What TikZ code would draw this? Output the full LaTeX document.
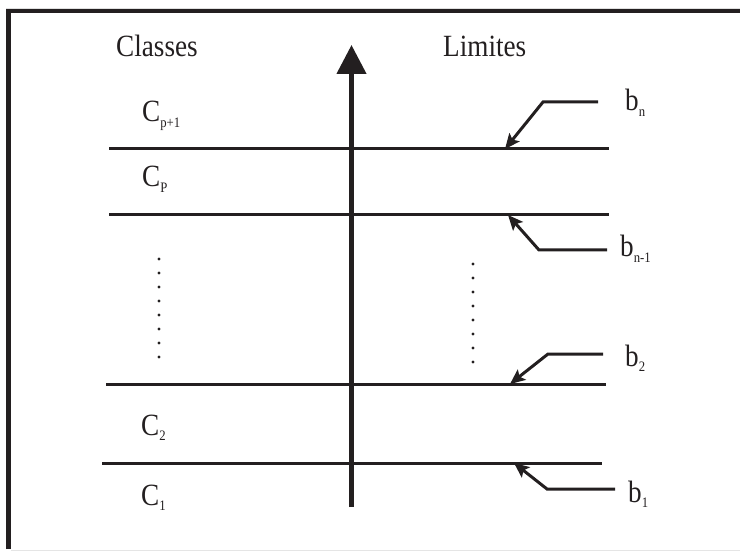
\documentclass[tikz,border=0pt]{standalone}
\usepackage{fontspec}
\setmainfont{Liberation Serif}
\newfontfamily\tallfont[FakeStretch=0.88]{Liberation Serif}
\usetikzlibrary{arrows.meta}
\definecolor{ink}{HTML}{231F20}
\newcommand{\lbl}[2]{#1\raisebox{-5.5bp}{\fontsize{14.5}{15}\selectfont #2}}
\begin{document}
\begin{tikzpicture}[x=1bp,y=-1bp,
  txt/.style={inner sep=0pt,anchor=base west,text=ink,font=\tallfont\fontsize{31}{33}\selectfont},
  bound/.style={draw=ink,line width=3bp},
  ptr/.style={draw=ink,line width=3bp,-{Stealth[length=15bp,width=13bp,inset=3bp]}},
  frame/.style={draw=ink,line width=4.5bp},
  dotcol/.style={fill=ink}]
\useasboundingbox (0,0) rectangle (740,551);
% frame
\draw[gray!25,line width=1bp] (6,8.5) -- (740,8.5);
\draw[frame] (8.5,549) -- (8.5,11) -- (740,11);
\draw[gray!20,line width=1bp] (11,550) -- (740,550);
% axis
\coordinate (axB) at (351.5,507);
\coordinate (axT) at (351.5,45);
\draw[draw=ink,line width=4.5bp,-{Triangle[length=29bp,width=29bp]}] (axB) -- (axT);
% boundary lines
\coordinate (l1a) at (109,149); \coordinate (l1b) at (609,149);
\coordinate (l2a) at (109,215); \coordinate (l2b) at (609,215);
\coordinate (l3a) at (106,384); \coordinate (l3b) at (606,384);
\coordinate (l4a) at (102,463); \coordinate (l4b) at (602,463);
\draw[bound] (l1a) -- (l1b);
\draw[bound] (l2a) -- (l2b);
\draw[bound] (l3a) -- (l3b);
\draw[bound] (l4a) -- (l4b);
% headings
\node[txt] (classes) at (116,57) {Classes};
\node[txt] (limites) at (443,57) {Limites};
% class labels
\node[txt] (cp1) at (142,122) {\lbl{C}{p+1}};
\node[txt] (cp) at (142,187) {\lbl{C}{P}};
\node[txt] (c2) at (141,435) {\lbl{C}{2}};
\node[txt] (c1) at (141,505) {\lbl{C}{1}};
% limit labels
\node[txt] (bn) at (625,111) {\lbl{b}{n}};
\node[txt] (bn1) at (620,257) {\lbl{b}{n-1}};
\node[txt] (b2) at (625,366) {\lbl{b}{2}};
\node[txt] (b1) at (628,502) {\lbl{b}{1}};
% pointers
\coordinate (pnS) at (598,102); \coordinate (pnK) at (543,102); \coordinate (pnT) at (505,149);
\coordinate (pn1S) at (607,250); \coordinate (pn1K) at (539,250); \coordinate (pn1T) at (508,215);
\coordinate (p2S) at (603,354); \coordinate (p2K) at (548,354); \coordinate (p2T) at (510,384);
\coordinate (p1S) at (615,489); \coordinate (p1K) at (547,489); \coordinate (p1T) at (514,463);
\draw[ptr] (pnS) -- (pnK) -- (pnT);
\draw[ptr] (pn1S) -- (pn1K) -- (pn1T);
\draw[ptr] (p2S) -- (p2K) -- (p2T);
\draw[ptr] (p1S) -- (p1K) -- (p1T);
% dots
\foreach \i in {0,...,7} {
  \fill[dotcol] (159,259+14*\i) circle (1.6bp);
  \fill[dotcol] (473,264+14*\i) circle (1.6bp);
}
\end{tikzpicture}
\end{document}
